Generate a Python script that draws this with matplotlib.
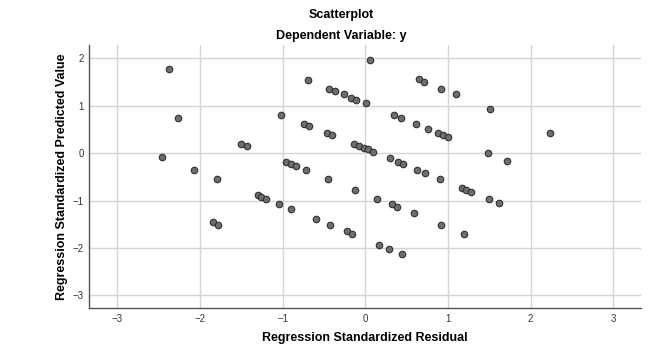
import matplotlib.pyplot as plt

plt.rcParams['font.family'] = ['Liberation Sans', 'DejaVu Sans']

# standardized residual (x) and standardized predicted value (y)
resid = [-2.38, -2.27, -2.46, -2.07, -1.80, -1.50, -1.43, -1.02,
         0.05, -0.70, -0.44, -0.37, -0.26, -0.17, -0.11, 0.01,
         0.65, 0.71, 0.91, 1.09, -0.74, -0.68, -0.47, -0.41,
         -0.14, -0.08, -0.02, 0.03, 0.09, 0.34, 0.43, 0.61,
         0.76, 0.88, 0.94, 1.00, -0.96, -0.90, -0.84, -0.72,
         -0.45, -0.12, 0.30, 0.40, 0.46, 0.63, 0.72, 0.90,
         1.51, 2.23, 1.48, 1.71, 1.17, 1.22, 1.28, 1.50,
         1.61, 1.19, -1.30, -1.26, -1.20, -1.04, -1.84, -1.78,
         -0.90, -0.60, -0.43, -0.22, -0.16, 0.14, 0.32, 0.38,
         0.59, 0.92, 0.17, 0.28, 0.44]
pred = [1.78, 0.745, -0.07, -0.35, -0.54, 0.20, 0.15, 0.81,
        1.97, 1.55, 1.36, 1.31, 1.24, 1.17, 1.12, 1.05,
        1.56, 1.50, 1.36, 1.24, 0.62, 0.58, 0.43, 0.39,
        0.20, 0.15, 0.11, 0.08, 0.03, 0.81, 0.745, 0.62,
        0.51, 0.43, 0.39, 0.35, -0.18, -0.22, -0.27, -0.35,
        -0.54, -0.77, -0.11, -0.18, -0.23, -0.35, -0.42, -0.54,
        0.93, 0.43, 0.01, -0.16, -0.73, -0.77, -0.82, -0.96,
        -1.04, -1.70, -0.89, -0.92, -0.96, -1.08, -1.46, -1.51,
        -1.17, -1.39, -1.51, -1.65, -1.70, -0.96, -1.08, -1.13,
        -1.27, -1.51, -1.93, -2.01, -2.12]
xticks = [-3, -2, -1, 0, 1, 2, 3]
yticks = [-3, -2, -1, 0, 1, 2]

fig = plt.figure(figsize=(6.58, 3.44), dpi=100)
ax = fig.add_axes([0.1357, 0.1038, 0.838, 0.765])

ax.scatter(resid, pred, s=22, facecolor='#6e6e6e', edgecolor='#303030',
           linewidth=0.8, zorder=3)

ax.set_xticks(xticks)
ax.set_yticks(yticks)
ax.set_xlim(-3.34, 3.33)
ax.set_ylim(-3.27, 2.28)
ax.tick_params(labelsize=7, length=0, pad=4, colors='#333333')
ax.grid(True, color='#d4d4d4', linewidth=1)
ax.set_axisbelow(True)
for s in ['top', 'right']:
    ax.spines[s].set_visible(False)
for s in ['left', 'bottom']:
    ax.spines[s].set_color('#555555')
    ax.spines[s].set_linewidth(1)

ax.set_xlabel('Regression Standardized Residual', fontsize=9, fontweight='bold', va='center')
ax.set_ylabel('Regression Standardized Predicted Value', fontsize=9, fontweight='bold', va='center')
ax.xaxis.set_label_coords(0.5, -0.113)
ax.yaxis.set_label_coords(-0.05, 0.5)

fig.text(0.518, 1 - 15 / 344, 'Scatterplot', ha='center', va='center',
         fontsize=9, fontweight='bold')
fig.text(0.518, 1 - 36 / 344, 'Dependent Variable: y', ha='center', va='center',
         fontsize=9, fontweight='bold')

fig.savefig('out.png', dpi=100)
